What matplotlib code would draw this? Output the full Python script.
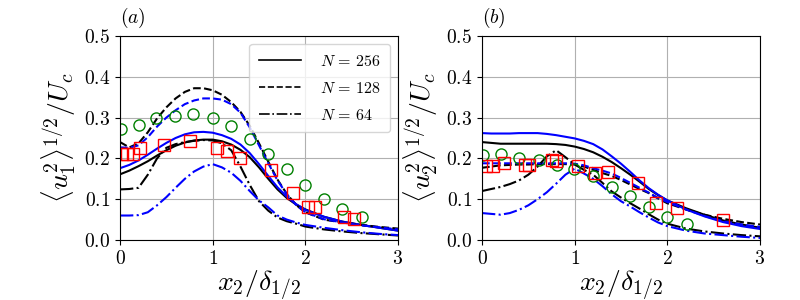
import numpy as np
import matplotlib
matplotlib.use("Agg")
import matplotlib.pyplot as plt
from matplotlib.lines import Line2D

plt.rcParams['font.family'] = 'serif'
plt.rcParams['font.serif'] = ['cmr10', 'DejaVu Serif']
plt.rcParams['mathtext.fontset'] = 'cm'
plt.rcParams['axes.formatter.use_mathtext'] = True
plt.rcParams['axes.unicode_minus'] = False

# ---------------- Panel (a): <u1^2>^1/2 / Uc ----------------
xa = [0.0, 0.1, 0.2, 0.3, 0.4, 0.5, 0.6, 0.7, 0.8, 0.9, 1.0, 1.1, 1.2, 1.3, 1.4,
      1.5, 1.6, 1.7, 1.8, 1.9, 2.0, 2.2, 2.4, 2.6, 2.8, 3.0]
a_n256_black = [0.161, 0.170, 0.181, 0.193, 0.207, 0.220, 0.231, 0.239, 0.244, 0.246, 0.246, 0.242,
                0.234, 0.221, 0.203, 0.178, 0.150, 0.124, 0.103, 0.087, 0.075, 0.057, 0.045, 0.037, 0.030, 0.023]
a_n256_blue = [0.176, 0.184, 0.195, 0.209, 0.224, 0.238, 0.250, 0.259, 0.264, 0.265, 0.263, 0.257,
               0.248, 0.234, 0.213, 0.186, 0.157, 0.129, 0.106, 0.088, 0.074, 0.057, 0.045, 0.037, 0.030, 0.023]
a_n128_black = [0.240, 0.227, 0.237, 0.264, 0.298, 0.325, 0.347, 0.363, 0.372, 0.372, 0.367, 0.356,
                0.338, 0.314, 0.280, 0.237, 0.192, 0.148, 0.113, 0.086, 0.068, 0.050, 0.043, 0.037, 0.032, 0.028]
a_n128_blue = [0.227, 0.226, 0.232, 0.252, 0.278, 0.300, 0.318, 0.333, 0.342, 0.347, 0.347, 0.344,
               0.333, 0.312, 0.276, 0.232, 0.188, 0.146, 0.112, 0.086, 0.068, 0.051, 0.043, 0.036, 0.031, 0.026]
a_n64_black = [0.124, 0.125, 0.128, 0.160, 0.200, 0.226, 0.235, 0.240, 0.243, 0.245, 0.244, 0.237,
               0.220, 0.180, 0.135, 0.095, 0.072, 0.055, 0.046, 0.040, 0.033, 0.026, 0.021, 0.017, 0.014, 0.011]
a_n64_blue = [0.060, 0.060, 0.061, 0.068, 0.085, 0.105, 0.128, 0.150, 0.168, 0.180, 0.186, 0.178,
              0.165, 0.145, 0.120, 0.097, 0.080, 0.060, 0.050, 0.043, 0.037, 0.030, 0.024, 0.019, 0.015, 0.012]
a_circ_x = [0.01, 0.2, 0.39, 0.59, 0.785, 1.0, 1.2, 1.4, 1.6, 1.8, 2.0, 2.2, 2.4, 2.61]
a_circ_y = [0.271, 0.282, 0.298, 0.305, 0.308, 0.300, 0.280, 0.247, 0.212, 0.173, 0.134, 0.101, 0.076, 0.056]
a_sq_x = [0.02, 0.08, 0.14, 0.22, 0.47, 0.75, 1.05, 1.15, 1.30, 1.63, 1.87, 2.03, 2.10, 2.42, 2.53]
a_sq_y = [0.212, 0.212, 0.212, 0.225, 0.233, 0.243, 0.226, 0.219, 0.200, 0.171, 0.115, 0.080, 0.080, 0.056, 0.052]

# ---------------- Panel (b): <u2^2>^1/2 / Uc ----------------
xb = [0.0, 0.1, 0.2, 0.3, 0.4, 0.5, 0.6, 0.7, 0.8, 0.9, 1.0, 1.1, 1.2, 1.3, 1.4,
      1.5, 1.6, 1.7, 1.8, 1.9, 2.0, 2.2, 2.4, 2.6, 2.8, 3.0]
b_n256_black = [0.240, 0.238, 0.236, 0.236, 0.236, 0.236, 0.236, 0.236, 0.235, 0.233, 0.229, 0.223,
                0.215, 0.204, 0.191, 0.176, 0.160, 0.143, 0.125, 0.110, 0.097, 0.078, 0.062, 0.048, 0.038, 0.030]
b_n256_blue = [0.262, 0.261, 0.261, 0.261, 0.262, 0.262, 0.262, 0.260, 0.257, 0.253, 0.249, 0.243,
               0.235, 0.222, 0.205, 0.187, 0.167, 0.146, 0.127, 0.111, 0.097, 0.075, 0.058, 0.044, 0.034, 0.027]
b_n128_black = [0.177, 0.180, 0.183, 0.184, 0.185, 0.185, 0.186, 0.186, 0.186, 0.186, 0.185, 0.180,
                0.172, 0.164, 0.157, 0.147, 0.136, 0.125, 0.115, 0.102, 0.090, 0.075, 0.062, 0.052, 0.044, 0.038]
b_n128_blue = [0.188, 0.188, 0.188, 0.188, 0.188, 0.188, 0.188, 0.188, 0.188, 0.188, 0.187, 0.183,
               0.176, 0.170, 0.163, 0.152, 0.140, 0.128, 0.116, 0.103, 0.093, 0.075, 0.059, 0.046, 0.038, 0.032]
b_n64_black = [0.120, 0.125, 0.130, 0.137, 0.146, 0.160, 0.180, 0.205, 0.220, 0.203, 0.185, 0.172,
               0.160, 0.140, 0.119, 0.104, 0.090, 0.077, 0.063, 0.050, 0.040, 0.028, 0.021, 0.016, 0.012, 0.009]
b_n64_blue = [0.066, 0.064, 0.062, 0.066, 0.074, 0.085, 0.100, 0.117, 0.138, 0.160, 0.175, 0.163,
              0.150, 0.132, 0.112, 0.095, 0.082, 0.068, 0.055, 0.043, 0.034, 0.023, 0.016, 0.012, 0.008, 0.005]
b_circ_x = [0.01, 0.2, 0.4, 0.61, 0.81, 0.99, 1.2, 1.4, 1.6, 1.8, 2.0, 2.21]
b_circ_y = [0.208, 0.210, 0.200, 0.196, 0.183, 0.174, 0.157, 0.130, 0.109, 0.081, 0.056, 0.038]
b_sq_x = [0.04, 0.12, 0.24, 0.46, 0.51, 0.76, 0.80, 1.04, 1.22, 1.36, 1.68, 1.88, 2.10, 2.60]
b_sq_y = [0.182, 0.182, 0.188, 0.183, 0.183, 0.196, 0.194, 0.182, 0.163, 0.167, 0.140, 0.091, 0.079, 0.048]

legend_labels = [r'$N\,=\,256$', r'$N\,=\,128$', r'$N\,=\,64$']

fig = plt.figure(figsize=(8, 3), dpi=100)
ax1 = fig.add_axes([0.15, 0.2, 0.3475, 0.68])
ax2 = fig.add_axes([0.6025, 0.2, 0.3475, 0.68])

lw = 1.5

def draw(ax, x, n256k, n256b, n128k, n128b, n64k, n64b, cx, cy, sx, sy):
    ax.plot(x, n256k, color='black', ls='-', lw=lw)
    ax.plot(x, n256b, color='blue', ls='-', lw=lw)
    ax.plot(x, n128k, color='black', ls='--', lw=lw)
    ax.plot(x, n128b, color='blue', ls='--', lw=lw)
    ax.plot(x, n64k, color='black', ls='-.', lw=lw)
    ax.plot(x, n64b, color='blue', ls='-.', lw=lw)
    ax.plot(cx, cy, ls='none', marker='o', mfc='none', mec='green', ms=8, mew=1.0)
    ax.plot(sx, sy, ls='none', marker='s', mfc='none', mec='red', ms=8.5, mew=1.0)
    ax.set_xlim(0, 3)
    ax.set_ylim(0, 0.5)
    ax.set_xticks([0, 1, 2, 3])
    ax.set_yticks([0.0, 0.1, 0.2, 0.3, 0.4, 0.5])
    ax.set_yticklabels([r'$0.0$', r'$0.1$', r'$0.2$', r'$0.3$', r'$0.4$', r'$0.5$'])
    ax.set_xticklabels([r'$0$', r'$1$', r'$2$', r'$3$'])
    ax.tick_params(labelsize=14)
    ax.grid(True, color='#b0b0b0', lw=0.8)
    ax.set_axisbelow(True)
    ax.set_xlabel(r'$x_2/\delta_{1/2}$', fontsize=20, labelpad=0)

draw(ax1, xa, a_n256_black, a_n256_blue, a_n128_black, a_n128_blue, a_n64_black, a_n64_blue,
     a_circ_x, a_circ_y, a_sq_x, a_sq_y)
draw(ax2, xb, b_n256_black, b_n256_blue, b_n128_black, b_n128_blue, b_n64_black, b_n64_blue,
     b_circ_x, b_circ_y, b_sq_x, b_sq_y)

ax1.set_ylabel(r'$\langle u_1^2\rangle^{1/2}/U_c$', fontsize=20)
ax2.set_ylabel(r'$\langle u_2^2\rangle^{1/2}/U_c$', fontsize=20)
ax1.text(0.0, 1.03, r'$(a)$', transform=ax1.transAxes, fontsize=14, va='bottom', ha='left')
ax2.text(0.0, 1.03, r'$(b)$', transform=ax2.transAxes, fontsize=14, va='bottom', ha='left')

handles = [Line2D([], [], color='black', ls='-', lw=1.2),
           Line2D([], [], color='black', ls='--', lw=1.2),
           Line2D([], [], color='black', ls='-.', lw=1.2)]
ax1.legend(handles, legend_labels, loc='upper right', fontsize=11.5, handlelength=2.6,
           labelspacing=0.75, borderpad=0.6, handletextpad=1.2)

fig.savefig('out.png', dpi=100)
